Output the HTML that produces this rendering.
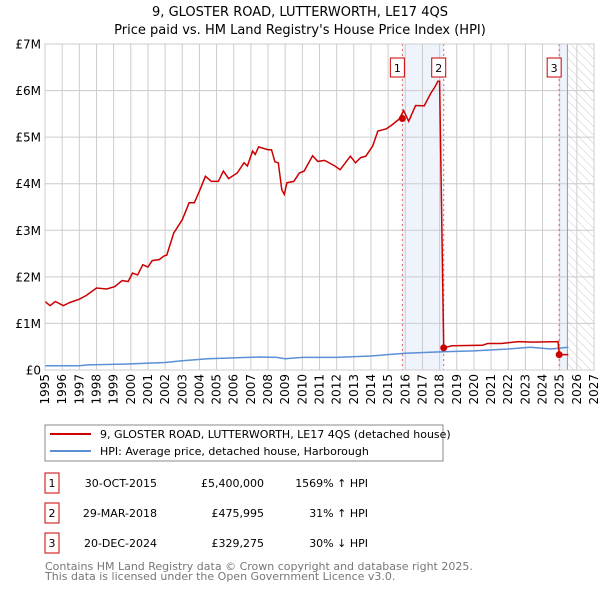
<!DOCTYPE html>
<html><head><meta charset="utf-8"><style>
body{margin:0;background:#fff;font-family:"Liberation Sans","DejaVu Sans",sans-serif;}
#wrap{position:relative;width:600px;height:590px;}
svg text{font-family:"DejaVu Sans","Liberation Sans",sans-serif;}
.xl{position:absolute;width:14px;height:40px;line-height:14px;font-size:12px;font-family:"DejaVu Sans","Liberation Sans",sans-serif;writing-mode:vertical-rl;writing-mode:sideways-lr;text-align:right;white-space:nowrap;}
</style></head><body>
<div id="wrap">
<svg id="c" width="600" height="590" xmlns="http://www.w3.org/2000/svg" style="position:absolute;left:0;top:0">
<defs><pattern id="hatch" width="6" height="6" patternUnits="userSpaceOnUse" patternTransform="rotate(-45)"><line x1="0" y1="0" x2="0" y2="6" stroke="#ccc" stroke-width="1"/></pattern></defs>
<text x="300" y="16" text-anchor="middle" font-size="13">9, GLOSTER ROAD, LUTTERWORTH, LE17 4QS</text>
<text x="300" y="34" text-anchor="middle" font-size="13">Price paid vs. HM Land Registry's House Price Index (HPI)</text>
<g id="plot"></g>
<rect x="45" y="425" width="398" height="36" fill="#fff" stroke="#888"/>
<line x1="50" y1="434" x2="91" y2="434" stroke="#cc0000" stroke-width="2"/>
<text x="100" y="438" font-size="11">9, GLOSTER ROAD, LUTTERWORTH, LE17 4QS (detached house)</text>
<line x1="50" y1="451" x2="91" y2="451" stroke="#5b8fd6" stroke-width="2"/>
<text x="100" y="455" font-size="11">HPI: Average price, detached house, Harborough</text>
<g font-size="11" id="tbl"></g>
<text x="45" y="570" font-size="11" fill="#777">Contains HM Land Registry data © Crown copyright and database right 2025.</text>
<text x="45" y="580" font-size="11" fill="#777">This data is licensed under the Open Government Licence v3.0.</text>
</svg>
</div>
<script>
const redYears=[1995,1995.3,1995.6,1996.07,1996.45,1997,1997.4,1998,1998.6,1999.07,1999.5,1999.85,2000.1,2000.4,2000.7,2001,2001.25,2001.65,2001.95,2002.1,2002.5,2003,2003.4,2003.7,2004,2004.35,2004.7,2005.1,2005.4,2005.7,2006.2,2006.6,2006.8,2007.1,2007.25,2007.45,2008,2008.2,2008.4,2008.6,2008.8,2008.95,2009.1,2009.5,2009.83,2010.1,2010.6,2010.9,2011.3,2011.9,2012.2,2012.8,2013.1,2013.4,2013.7,2014.1,2014.4,2014.9,2015.25,2015.65,2015.9,2016.2,2016.6,2017.1,2017.5,2017.7,2017.9,2018.0,2018.24,2018.73,2020.5,2020.8,2021.6,2022.6,2023.4,2024.9,2024.97,2025.5];
const redValues=[1.47,1.38,1.47,1.38,1.45,1.52,1.6,1.76,1.74,1.79,1.92,1.9,2.08,2.04,2.26,2.21,2.35,2.37,2.45,2.47,2.94,3.23,3.59,3.59,3.84,4.16,4.05,4.05,4.27,4.11,4.23,4.45,4.38,4.7,4.63,4.79,4.73,4.73,4.47,4.45,3.87,3.77,4.02,4.05,4.23,4.27,4.6,4.48,4.5,4.38,4.3,4.59,4.45,4.56,4.59,4.81,5.13,5.18,5.27,5.39,5.57,5.34,5.68,5.67,5.95,6.06,6.2,6.2,0.476,0.52,0.53,0.57,0.57,0.61,0.6,0.61,0.33,0.33];
const hpiYears=[1995,1997,1997.5,2000,2002,2003,2004.5,2007.5,2008.5,2009,2010,2012,2014,2016,2018.2,2020,2022,2023.3,2024.5,2025.5];
const hpiValues=[0.09,0.09,0.11,0.13,0.16,0.2,0.24,0.28,0.27,0.24,0.27,0.27,0.3,0.36,0.39,0.41,0.45,0.49,0.45,0.49];
const saleYears=[2015.83,2018.24,2024.97];
const saleValues=[5.4,0.476,0.329];
const saleLabels=["1","2","3"];
const yTicks=["£0","£1M","£2M","£3M","£4M","£5M","£6M","£7M"];
const tableDates=["30-OCT-2015","29-MAR-2018","20-DEC-2024"];
const tablePrices=["£5,400,000","£475,995","£329,275"];
const tablePct=["1569% ↑ HPI","31% ↑ HPI","30% ↓ HPI"];
const X0=45,X1=594,Y0=370,Y1=44;
const xs=y=>X0+(y-1995)/32*(X1-X0);
const ys=v=>Y0-v/7*(Y0-Y1);
const NS="http://www.w3.org/2000/svg";
const g=document.getElementById('plot');
const wrap=document.getElementById('wrap');
function mk(t,a,p){const e=document.createElementNS(NS,t);for(const k in a)e.setAttribute(k,a[k]);(p||g).appendChild(e);return e;}
let e=mk('rect',{x:xs(saleYears[0]),y:Y1,width:xs(saleYears[1])-xs(saleYears[0]),height:Y0-Y1,fill:'#eef3fc'});


e=mk('rect',{x:xs(saleYears[2]),y:Y1,width:xs(2025.45)-xs(saleYears[2]),height:Y0-Y1,fill:'#eef3fc'});


e=mk('rect',{x:xs(2025.45),y:Y1,width:X1-xs(2025.45),height:Y0-Y1,fill:'url(#hatch)'});


for(let yr=1995;yr<=2027;yr++){
 e=mk('line',{x1:xs(yr),x2:xs(yr),y1:Y1,y2:Y0,stroke:'#ccc','stroke-width':1});
 
 
 const d=document.createElement('div');
 d.className='xl';
 d.style.left=(xs(yr)-7).toFixed(1)+'px';
 d.style.top=(Y0+4)+'px';
 d.textContent=yr;
 
 
 wrap.appendChild(d);
}
yTicks.forEach((t,i)=>{
 e=mk('line',{x1:X0,x2:X1,y1:ys(i),y2:ys(i),stroke:'#ccc','stroke-width':1});
 
 
 e=mk('text',{x:X0-4,y:ys(i)+4.5,'font-size':12,'text-anchor':'end'});
 e.textContent=t;
 
 
});
e=mk('line',{x1:xs(2025.45),x2:xs(2025.45),y1:Y1,y2:Y0,stroke:'#999'});


saleYears.forEach((s,i)=>{
 e=mk('line',{x1:xs(s),x2:xs(s),y1:Y1,y2:Y0,stroke:'#e06060','stroke-dasharray':'2,3'});
 
 
 e=mk('rect',{x:xs(s)-12,y:58,width:14,height:19,fill:'#fff',stroke:'#cc0000'});
 
 
 e=mk('text',{x:xs(s)-5,y:72,'font-size':11,'text-anchor':'middle'});
 e.textContent=saleLabels[i];
 
 
});
e=mk('path',{d:hpiYears.map((y,i)=>(i?'L':'M')+xs(y).toFixed(1)+','+ys(hpiValues[i]).toFixed(1)).join(''),fill:'none',stroke:'#5b8fd6','stroke-width':1.5});


e=mk('path',{d:redYears.map((y,i)=>(i?'L':'M')+xs(y).toFixed(1)+','+ys(redValues[i]).toFixed(1)).join(''),fill:'none',stroke:'#cc0000','stroke-width':1.5});


saleYears.forEach((s,i)=>{
 e=mk('circle',{cx:xs(s),cy:ys(saleValues[i]),r:3.5,fill:'#cc0000'});
 
 
});
e=mk('rect',{x:X0,y:Y1,width:X1-X0,height:Y0-Y1,fill:'none',stroke:'#ccc'});


const tb=document.getElementById('tbl');
tableDates.forEach((d,i)=>{
 const yy=483+i*30;
 e=mk('rect',{x:45,y:yy-10,width:14,height:20,fill:'#fff',stroke:'#cc0000'},tb);
 
 
 e=mk('text',{x:52,y:yy+4,'text-anchor':'middle'},tb);e.textContent=saleLabels[i];
 
 
 e=mk('text',{x:157,y:yy+4,'text-anchor':'end'},tb);e.textContent=d;
 
 
 e=mk('text',{x:264,y:yy+4,'text-anchor':'end'},tb);e.textContent=tablePrices[i];
 
 
 e=mk('text',{x:368,y:yy+4,'text-anchor':'end'},tb);e.textContent=tablePct[i];
 
 
});
</script>
</body></html>
